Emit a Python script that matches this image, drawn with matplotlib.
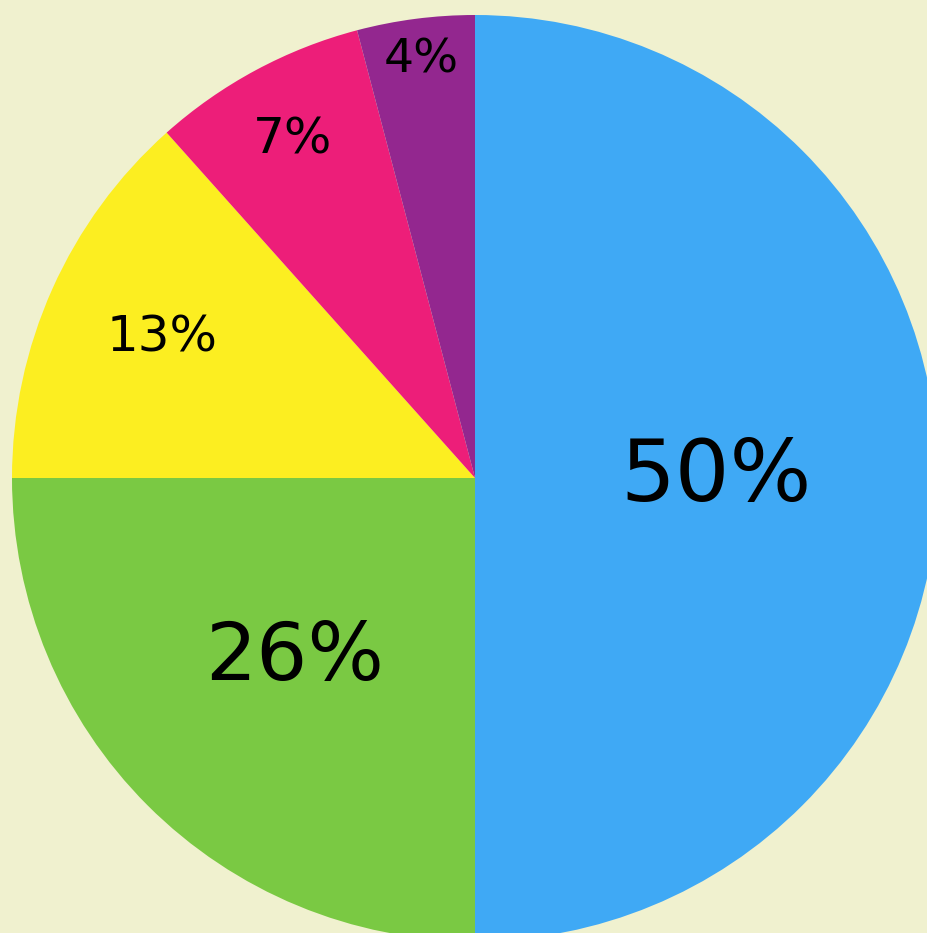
import numpy as np
import matplotlib
matplotlib.use('Agg')
import matplotlib.pyplot as plt

# wedge sizes as they appear in the picture, and the printed labels
sizes = [50, 25, 13.4, 7.5, 4.1]
labels = ['50%', '26%', '13%', '7%', '4%']
colors = ['#3fa9f5', '#7ac943', '#fcee21', '#ed1e79', '#93278f']

# label placement (fraction of radius) and font size per wedge
label_r = [0.52, 0.55, 0.74, 0.83, 0.91]
label_fs = [62, 58, 36, 36, 34]

W, H = 928, 933
fig = plt.figure(figsize=(W / 100, H / 100), dpi=100)
fig.patch.set_facecolor('#f0f1cf')
ax = fig.add_axes([0, 0, 1, 1])
ax.set_facecolor('#f0f1cf')

cx, cy, R = 475, H - 478, 463
wedges, _ = ax.pie(sizes, colors=colors, startangle=90, counterclock=False,
                   radius=R, center=(cx, cy),
                   wedgeprops=dict(linewidth=0))

for w, lab, rf, fs in zip(wedges, labels, label_r, label_fs):
    mid = np.deg2rad((w.theta1 + w.theta2) / 2)
    ax.text(cx + rf * R * np.cos(mid), cy + rf * R * np.sin(mid), lab,
            ha='center', va='center', fontsize=fs, color='black')

ax.set_xlim(0, W)
ax.set_ylim(0, H)
ax.set_aspect('equal')
ax.axis('off')

plt.savefig('out.png', dpi=100, facecolor=fig.get_facecolor())
